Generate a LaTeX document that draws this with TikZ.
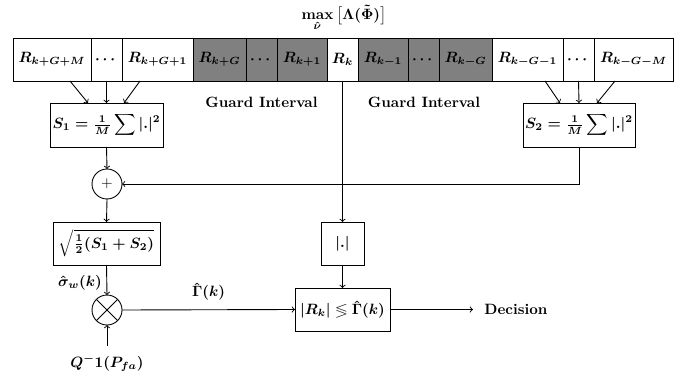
\documentclass[tikz,border=0pt]{standalone}
\usepackage{amsmath,amssymb}
\usetikzlibrary{calc}
\def\u{0.67pt}
\begin{document}
\begin{tikzpicture}[x=0.67pt,y=-0.67pt,
  every node/.style={font=\bfseries\boldmath},
  line width=0.6pt, >=to,
  cell/.style={draw, line width=0.6pt, inner sep=0pt, outer sep=0pt, minimum height=43*\u},
  wc/.style={cell, fill=white},
  gc/.style={cell, fill=black!50},
  blk/.style={draw, inner sep=0pt, outer sep=0pt},
  lbl/.style={inner sep=0pt}]
\useasboundingbox (0,0) rectangle (689,378);
% top row
\node[wc, minimum width=78*\u] (c1) at (52,59.5) {$R_{k+G+M}$};
\node[wc, minimum width=31*\u] (c2) at (106.5,59.5) {$\cdots$};
\node[wc, minimum width=71*\u] (c3) at (157.5,59.5) {$R_{k+G+1}$};
\node[gc, minimum width=53*\u] (c4) at (219.5,59.5) {$R_{k+G}$};
\node[gc, minimum width=31*\u] (c5) at (261.5,59.5) {$\cdots$};
\node[gc, minimum width=50*\u] (c6) at (302,59.5) {$R_{k+1}$};
\node[wc, minimum width=31*\u] (c7) at (342.5,59.5) {$R_{k}$};
\node[gc, minimum width=50*\u] (c8) at (383,59.5) {$R_{k-1}$};
\node[gc, minimum width=31*\u] (c9) at (423.5,59.5) {$\cdots$};
\node[gc, minimum width=53*\u] (c10) at (465.5,59.5) {$R_{k-G}$};
\node[wc, minimum width=71*\u] (c11) at (527.5,59.5) {$R_{k-G-1}$};
\node[wc, minimum width=31*\u] (c12) at (578.5,59.5) {$\cdots$};
\node[wc, minimum width=79*\u] (c13) at (633.5,59.5) {$R_{k-G-M}$};
% title
\node[lbl] (mx) at (344,18) {$\max\limits_{\hat{\nu}}\,\bigl[\boldsymbol{\Lambda}(\tilde{\boldsymbol{\Phi}})\bigr]$};
% guard interval labels
\node[lbl] (g1) at (261.5,102) {Guard Interval};
\node[lbl] (g2) at (424,102) {Guard Interval};
% S boxes
\node[blk, minimum width=113*\u, minimum height=44*\u] (S1) at (106.5,125) {$S_1=\frac{1}{M}\displaystyle\sum|.|^2$};
\node[blk, minimum width=112*\u, minimum height=44*\u] (S2) at (579,125) {$S_2=\frac{1}{M}\displaystyle\sum|.|^2$};
% plus
\node[draw, circle, minimum size=30*\u, inner sep=0pt, outer sep=0pt, font=\normalfont] (plus) at (107,184) {$+$};
% sqrt
\node[blk, minimum width=107*\u, minimum height=43*\u] (sq) at (106.5,243.5) {$\sqrt{\frac{1}{2}(S_1+S_2)}$};
% otimes
\node[draw, circle, minimum size=30*\u, inner sep=0pt, outer sep=0pt] (ot) at (107,310) {};
\draw (ot.north east) -- (ot.south west) (ot.north west) -- (ot.south east);
% Q label
\node[lbl] (Q) at (107,363) {$Q^{-}1(P_{fa})$};
% abs box
\node[blk, minimum width=43*\u, minimum height=43*\u] (abs) at (342.5,243.5) {$|.|$};
% decision box
\node[blk, minimum width=95*\u, minimum height=43*\u] (dec) at (342.5,309.5) {$|R_k|\lessgtr\hat{\Gamma}(k)$};
\node[lbl, anchor=west] (D) at (484,309.5) {Decision};
\coordinate (Dend) at (473,309.5);
% connectors
\draw[->] ($(c2.south)+(-36.5,0)$) -- ($(S1.north)+(-18.5,0)$);
\draw[->] (c2.south) -- (S1.north);
\draw[->] ($(c2.south)+(33.5,0)$) -- ($(S1.north)+(17.5,0)$);
\draw[->] ($(c12.south)+(-33.5,0)$) -- ($(S2.north)+(-19,0)$);
\draw[->] (c12.south) -- (S2.north);
\draw[->] ($(c12.south)+(36.5,0)$) -- ($(S2.north)+(18,0)$);
\draw[->] (S1.south) -- (plus.north);
\draw[->] (S2.south) |- (plus.east);
\draw[->] (c7.south) -- (abs.north);
\draw[->] (plus.south) -- (sq.north);
\draw[->] (sq.south) -- node[lbl, left, xshift=-3pt, yshift=-2pt] (sig) {$\hat{\sigma}_w(k)$} (ot.north);
\draw[->] ($(Q.north)+(0,-8)$) -- (ot.south);
\draw[->] (ot.east) -- node[lbl, above, yshift=6pt] (gam) {$\hat{\Gamma}(k)$} (dec.west);
\draw[->] (abs.south) -- (dec.north);
\draw[->] (dec.east) -- (Dend);
\end{tikzpicture}
\end{document}
